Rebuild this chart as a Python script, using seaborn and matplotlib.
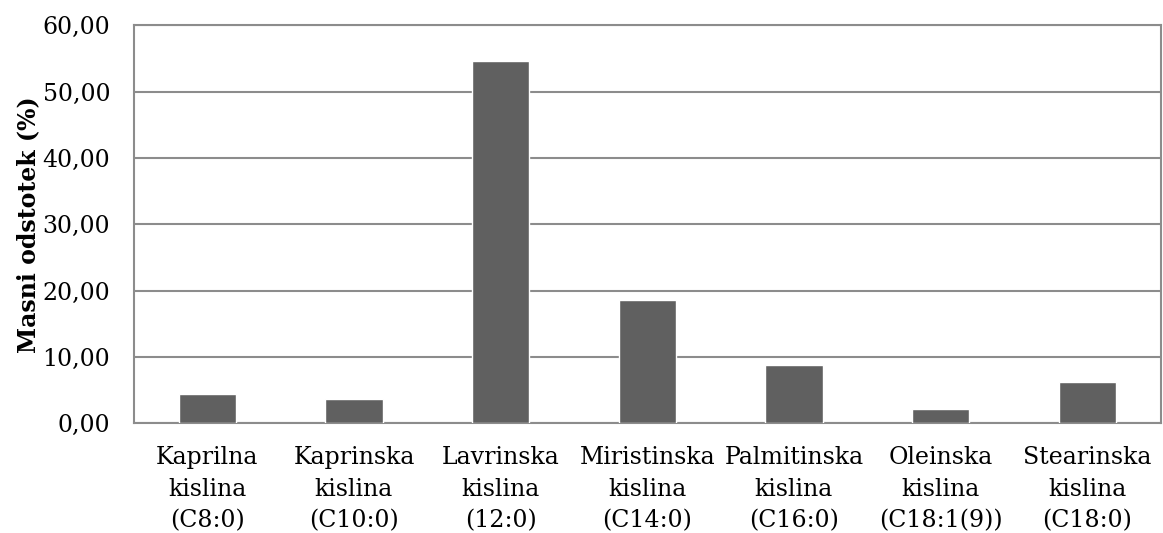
import numpy as np
import pandas as pd
import matplotlib.pyplot as plt
import seaborn as sns
from matplotlib.ticker import FuncFormatter

# data
kisline = ["Kaprilna\nkislina\n(C8:0)", "Kaprinska\nkislina\n(C10:0)",
           "Lavrinska\nkislina\n(12:0)", "Miristinska\nkislina\n(C14:0)",
           "Palmitinska\nkislina\n(C16:0)", "Oleinska\nkislina\n(C18:1(9))",
           "Stearinska\nkislina\n(C18:0)"]
odstotek = [4.37, 3.62, 54.6, 18.6, 8.79, 2.2, 6.18]

df = pd.DataFrame({"kislina": kisline, "odstotek": odstotek})

sns.set_style("white")
plt.rcParams["font.family"] = ["DejaVu Serif"]

fig = plt.figure(figsize=(11.63, 5.33), dpi=100)
ax = fig.add_axes([0.1152, 0.2058, 0.8828, 0.7467])

sns.barplot(data=df, x="kislina", y="odstotek", color="#606060", saturation=1,
            width=0.39, ax=ax, zorder=3)

ax.set_ylim(0, 60)
ax.set_yticks(np.arange(0, 61, 10))
ax.yaxis.set_major_formatter(FuncFormatter(lambda v, p: f"{v:.2f}".replace(".", ",")))
ax.grid(axis="y", color="#8c8c8c", linewidth=1.5, zorder=0)
ax.set_axisbelow(True)
for s in ax.spines.values():
    s.set_color("#8c8c8c")
    s.set_linewidth(1.5)

ax.tick_params(axis="both", length=0, labelsize=17, colors="black")
ax.tick_params(axis="y", pad=17)
ax.tick_params(axis="x", pad=16)
for lab in ax.get_xticklabels():
    lab.set_linespacing(1.5)
ax.set_xlabel("")
ax.set_ylabel("Masni odstotek (%)", fontsize=17, fontweight="bold",
              labelpad=2, color="black")

fig.savefig("out.png", dpi=100)
